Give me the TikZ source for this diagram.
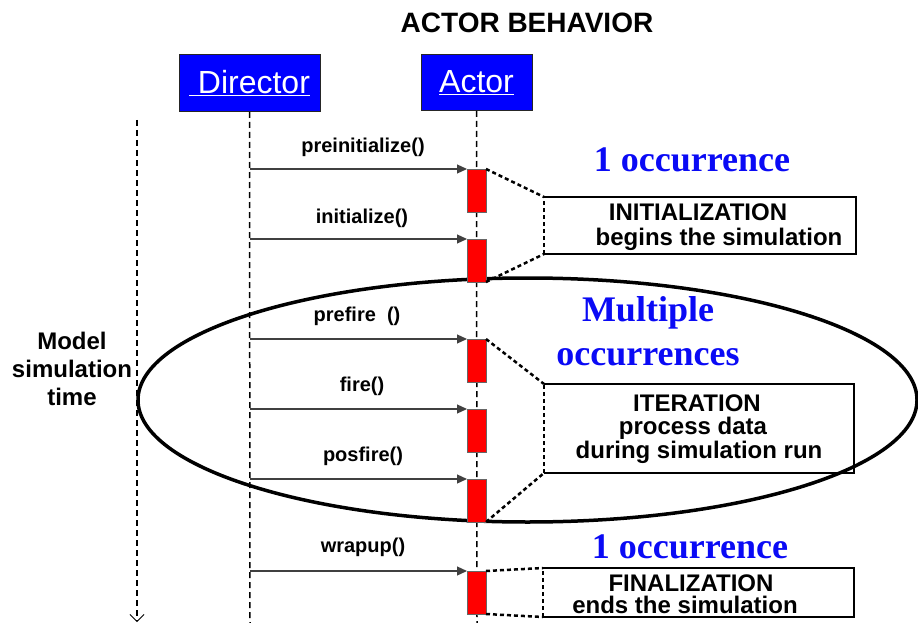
\documentclass[tikz,border=0pt]{standalone}
\usepackage{fontspec}
\setmainfont{Liberation Sans}
\newfontfamily\timesf{Liberation Serif}
\usetikzlibrary{arrows.meta}
\definecolor{dirblue}{RGB}{0,0,255}
\definecolor{barred}{RGB}{255,0,0}
\definecolor{occblue}{RGB}{10,10,245}
\begin{document}
\begin{tikzpicture}[x=1pt,y=-1pt,
 every node/.style={inner sep=0pt, outer sep=0pt},
 head/.style={draw=black!85, line width=1pt, fill=dirblue, text=white, font=\fontsize{32}{36}\selectfont},
 life/.style={line width=1.5pt, dash pattern=on 6pt off 4pt},
 msg/.style={line width=1.2pt, draw=black!75, -{Triangle[length=10pt,width=9pt]}},
 msglabel/.style={font=\bfseries\fontsize{20}{22}\selectfont},
 bar/.style={draw=black!60, line width=0.8pt, fill=barred, minimum width=19pt, minimum height=43pt, anchor=north west},
 zoomline/.style={line width=2.5pt, dash pattern=on 4pt off 3pt},
 info/.style={font=\bfseries\fontsize{24}{26}\selectfont},
 occ/.style={font=\timesf\bfseries\fontsize{36}{40}\selectfont, text=occblue},
 boxedge/.style={line width=2pt},
 infobox/.style={anchor=north west},
]
\useasboundingbox (0,0) rectangle (918,623);

% title
\node[font=\bfseries\fontsize{28}{30}\selectfont] (title) at (527,23) {ACTOR BEHAVIOR};

% ellipse (iteration loop)
\draw[line width=3.5pt] (527.5,400) ellipse [x radius=389.5pt, y radius=122pt];

% heads
\node[head, minimum width=141pt, minimum height=57pt] (dir) at (249.5,83.5) {\underline{\ Director}};
\node[head, minimum width=111pt, minimum height=56pt] (act) at (476.5,83) {\underline{Actor}};

% lifelines
\coordinate (dend) at (250,623);
\coordinate (aend) at (477,623);
\coordinate (tstart) at (137,120);
\coordinate (tend) at (137,622);
\draw[life] (dir.south) -- (dend);
\draw[life] (act.south) -- (aend);
\draw[life, -{Straight Barb[length=7pt,width=14pt,line width=0.8pt]}] (tstart) -- (tend);

% time label
\node[font=\bfseries\fontsize{24}{28}\selectfont, align=center] (time) at (72,369) {Model\\simulation\\time};

% activation bars
\node[bar] (b1) at (467,169) {};
\node[bar] (b2) at (467,239) {};
\node[bar] (b3) at (467,339) {};
\node[bar] (b4) at (467,409) {};
\node[bar] (b5) at (467,479) {};
\node[bar] (b6) at (467,571) {};

% message origins on director lifeline
\coordinate (d1) at (250,169);
\coordinate (d2) at (250,239);
\coordinate (d3) at (250,339);
\coordinate (d4) at (250,409);
\coordinate (d5) at (250,479);
\coordinate (d6) at (250,571);
\draw[msg] (d1) -- (b1.north west);
\draw[msg] (d2) -- (b2.north west);
\draw[msg] (d3) -- (b3.north west);
\draw[msg] (d4) -- (b4.north west);
\draw[msg] (d5) -- (b5.north west);
\draw[msg] (d6) -- (b6.north west);

% message labels
\node[msglabel] (l1) at (363,147) {preinitialize()};
\node[msglabel] (l2) at (362,218) {initialize()};
\node[msglabel] (l3) at (357,316) {prefire~~()};
\node[msglabel] (l4) at (362,386) {fire()};
\node[msglabel] (l5) at (363,456) {posfire()};
\node[msglabel] (l6) at (363,547) {wrapup()};

% info boxes
\node[infobox, minimum width=312pt, minimum height=57pt] (ibox) at (544,197) {};
\node[infobox, minimum width=310pt, minimum height=89pt] (tbox) at (544,384) {};
\node[infobox, minimum width=311pt, minimum height=49pt] (fbox) at (543,568) {};
\foreach \b in {ibox,tbox,fbox}{
  \draw[boxedge] (\b.north west) -- (\b.north east) -- (\b.south east) -- (\b.south west);
  \draw[zoomline] (\b.south west) -- (\b.north west);
}
\draw[zoomline] (b1.north east) -- (ibox.north west);
\draw[zoomline] (b2.south east) -- (ibox.south west);
\draw[zoomline] (b3.north east) -- (tbox.north west);
\draw[zoomline] (b5.south east) -- (tbox.south west);
\draw[zoomline] (b6.north east) -- (fbox.north west);
\draw[zoomline] (b6.south east) -- (fbox.south west);

% box texts
\node[info] (it1) at (698,212) {INITIALIZATION};
\node[info] (it2) at (719,239) {begins the simulation};
\node[info] (tt1) at (697,403) {ITERATION};
\node[info] (tt2) at (693,428) {process data};
\node[info] (tt3) at (699,452) {during simulation run};
\node[info] (ft1) at (691,583) {FINALIZATION};
\node[info] (ft2) at (685,605) {ends the simulation};

% occurrence labels
\node[occ] (o1) at (692,160) {1 occurrence};
\node[occ] (o2) at (648,313) {Multiple};
\node[occ] (o3) at (648,357) {occurrences};
\node[occ] (o4) at (690,547) {1 occurrence};
\end{tikzpicture}
\end{document}
